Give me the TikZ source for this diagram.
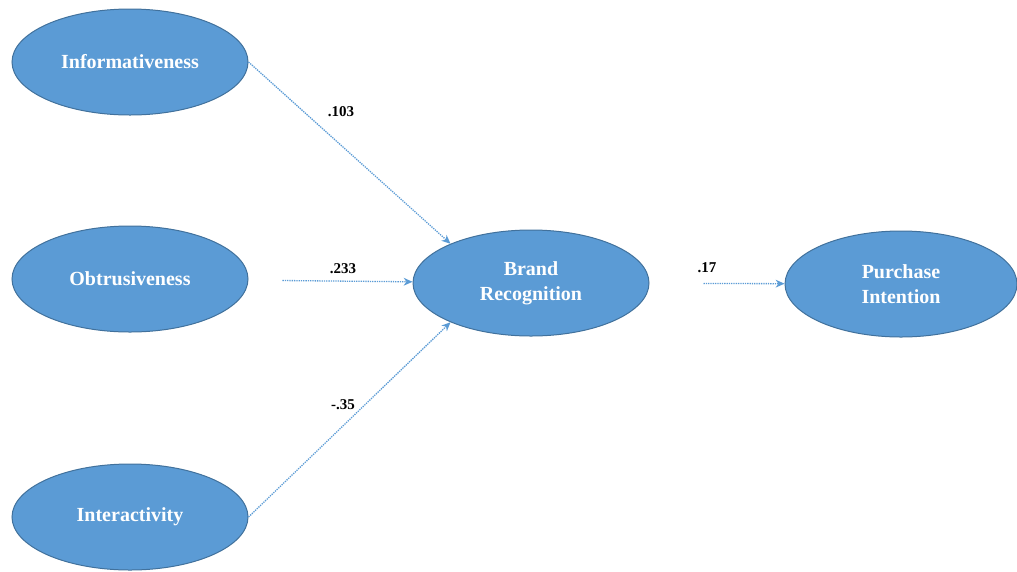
\documentclass[tikz,border=0pt]{standalone}
\usepackage{fontspec}
\setmainfont{Liberation Serif}
\usetikzlibrary{arrows.meta,shapes.geometric}
\definecolor{ovalfill}{HTML}{5B9BD5}
\definecolor{ovalline}{HTML}{41719C}
\definecolor{linkblue}{HTML}{5B9BD5}
\begin{document}
\begin{tikzpicture}[x=1pt,y=-1pt,
  oval/.style={ellipse, draw=ovalline, line width=1pt, fill=ovalfill,
    minimum width=236pt, minimum height=106pt, inner sep=0pt,
    text=white, font=\fontsize{20}{25}\selectfont\bfseries, align=center},
  link/.style={draw=linkblue, line width=1.3pt, densely dotted,
    -{Stealth[length=9pt,width=8pt,fill=linkblue,line width=0pt]}},
  coef/.style={font=\fontsize{15}{18}\selectfont\bfseries, text=black, inner sep=1pt}]
\useasboundingbox (0,0) rectangle (1017,571);
\node[oval] (info) at (130,62) {Informativeness};
\node[oval] (obtr) at (130,279) {Obtrusiveness};
\node[oval] (inter) at (130,517) {Interactivity};
\node[oval] (brand) at (531,283) {Brand\\Recognition};
\node[oval, minimum width=232pt] (purch) at (901,284) {Purchase\\Intention};

\draw[link] (info.east) -- (brand.154);
\draw[link, shorten <=34pt] (obtr) -- (brand);
\draw[link] (inter.east) -- (brand.206);
\draw[link, shorten <=54pt] (brand) -- (purch);

\node[coef] (c1) at (341,112) {.103};
\node[coef] (c2) at (343,269) {.233};
\node[coef] (c3) at (343,405) {-.35};
\node[coef] (c4) at (707,268) {.17};
\end{tikzpicture}
\end{document}
